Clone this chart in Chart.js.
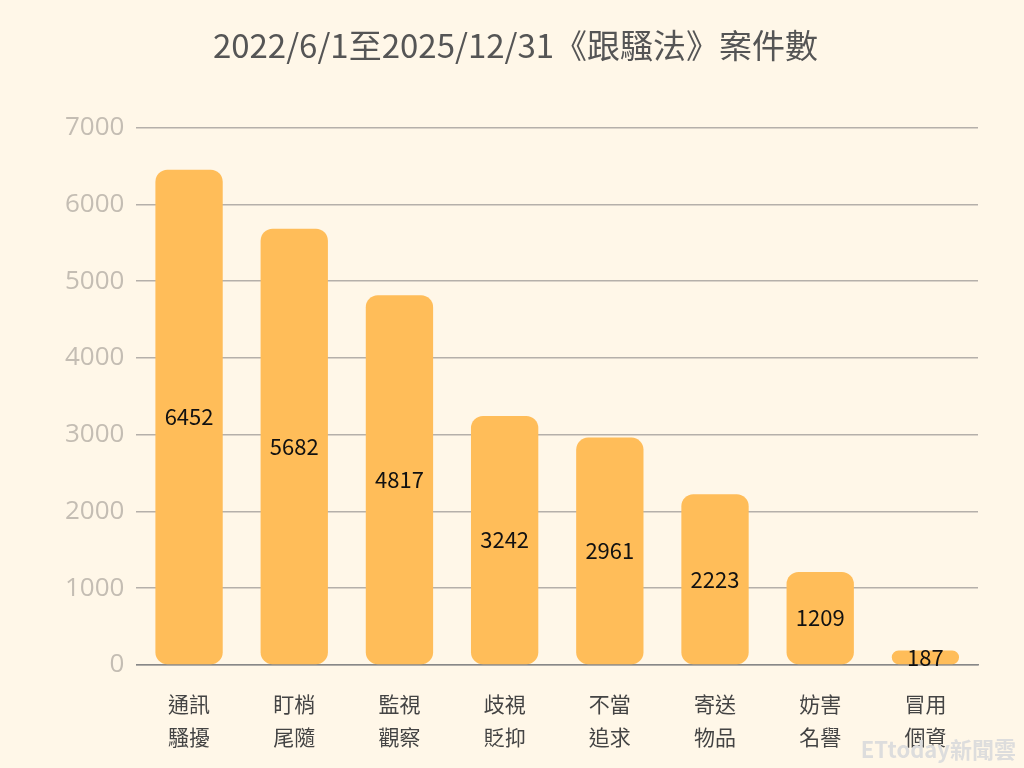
<!DOCTYPE html>
<html><head><meta charset="utf-8">
<script src="https://cdn.jsdelivr.net/npm/chart.js@4"></script>
<style>html,body{margin:0;background:#fff7e8;}#wrap{width:1024px;height:768px;position:relative;}
#wm{position:absolute;right:8px;bottom:4px;font:bold 22px "Noto Sans CJK TC";color:#ddd;}</style>
</head><body><div id="wrap"><canvas id="c" width="1024" height="768"></canvas><div id="wm">ETtoday新聞雲</div></div>
<script>
const categories=[["通訊","騷擾"],["盯梢","尾隨"],["監視","觀察"],["歧視","貶抑"],["不當","追求"],["寄送","物品"],["妨害","名譽"],["冒用","個資"]];
const values=[6452,5682,4817,3242,2961,2223,1209,187];
const title="2022/6/1至2025/12/31《跟騷法》案件數";
const labelPlugin={id:'vl',afterDatasetsDraw(ch){const ctx=ch.ctx;const m=ch.getDatasetMeta(0);ctx.save();ctx.font='22px "Noto Sans CJK TC"';ctx.fillStyle='#111';ctx.textAlign='center';ctx.textBaseline='middle';
m.data.forEach((b,i)=>{ctx.fillText(String(values[i]),b.x,(b.y+b.base)/2);});ctx.restore();}};
new Chart(document.getElementById('c'),{type:'bar',data:{labels:categories,datasets:[{data:values,backgroundColor:'#ffbd59',borderRadius:12,borderSkipped:false,barPercentage:0.64,categoryPercentage:1}]},
options:{responsive:false,animation:false,layout:{padding:{left:53,right:46,top:10,bottom:0}},
plugins:{legend:{display:false},tooltip:{enabled:false},title:{display:true,text:title,color:'#555',font:{family:'Noto Sans CJK TC',size:33,weight:'normal'},padding:{top:16,bottom:62}}},
scales:{y:{min:0,max:7000,ticks:{stepSize:1000,color:'#c4bdb3',font:{family:'Open Sans',size:26},padding:12,callback:v=>String(v)},grid:{color:'#b5b0aa',lineWidth:1.5,drawTicks:false},border:{display:false}},
x:{ticks:{color:'#444',font:{family:'Noto Sans CJK TC',size:21,lineHeight:1.55},padding:15},grid:{display:false},border:{color:'#888',width:1.5}}}},plugins:[labelPlugin]});
</script></body></html>
